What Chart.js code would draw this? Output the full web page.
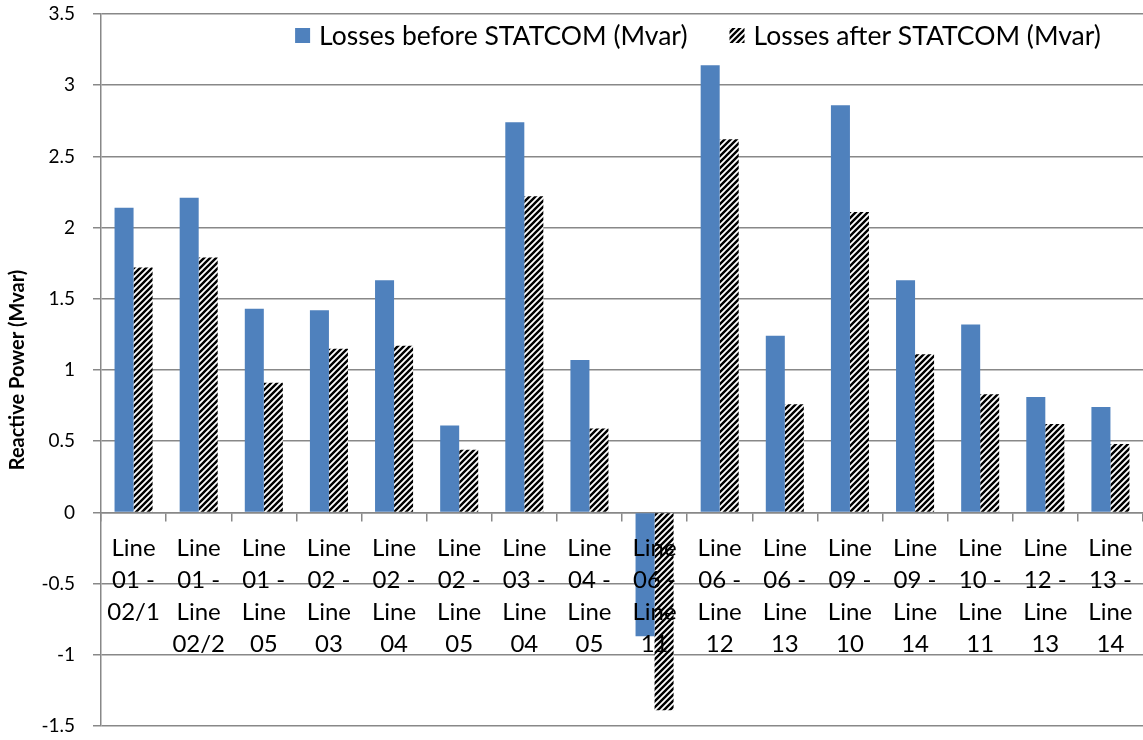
<!DOCTYPE html>
<html lang="en">
<head>
<meta charset="UTF-8">
<title>Reactive power losses</title>
<script src="https://cdn.jsdelivr.net/npm/chart.js"></script>
<style>
  html, body { margin: 0; padding: 0; background: #fff; }
  #wrap { width: 1143px; height: 740px; }
</style>
</head>
<body>
<div id="wrap"><canvas id="lossChart" width="1143" height="740"></canvas></div>
<script>
// Lines of the network, each label already split the way it wraps
const lineLabels = [
    ['Line', '01 -', '02/1'],
    ['Line', '01 -', 'Line', '02/2'],
    ['Line', '01 -', 'Line', '05'],
    ['Line', '02 -', 'Line', '03'],
    ['Line', '02 -', 'Line', '04'],
    ['Line', '02 -', 'Line', '05'],
    ['Line', '03 -', 'Line', '04'],
    ['Line', '04 -', 'Line', '05'],
    ['Line', '06 -', 'Line', '11'],
    ['Line', '06 -', 'Line', '12'],
    ['Line', '06 -', 'Line', '13'],
    ['Line', '09 -', 'Line', '10'],
    ['Line', '09 -', 'Line', '14'],
    ['Line', '10 -', 'Line', '11'],
    ['Line', '12 -', 'Line', '13'],
    ['Line', '13 -', 'Line', '14']
];

// Reactive power losses (Mvar)
const lossesBefore = [2.14, 2.21, 1.43, 1.42, 1.63, 0.61, 2.74, 1.07, -0.87, 3.14, 1.24, 2.86, 1.63, 1.32, 0.81, 0.74];
const lossesAfter  = [1.72, 1.79, 0.91, 1.15, 1.17, 0.44, 2.22, 0.59, -1.39, 2.62, 0.76, 2.11, 1.11, 0.83, 0.62, 0.48];

// Y axis range
const yMin = -1.5;
const yMax = 3.5;
const yStep = 0.5;

Chart.defaults.font.family = 'Lato';

// black / white diagonal stripes for the "after" series
const makeStripes = () => {
    const size = 6;
    const c = document.createElement('canvas');
    c.width = size;
    c.height = size;
    const g = c.getContext('2d');
    g.fillStyle = '#fff';
    g.fillRect(0, 0, size, size);
    g.strokeStyle = '#000';
    g.lineWidth = 2.4;
    g.beginPath();
    g.moveTo(-1, size + 1); g.lineTo(size + 1, -1);
    g.moveTo(-1, 1); g.lineTo(1, -1);
    g.moveTo(size - 1, size + 1); g.lineTo(size + 1, size - 1);
    g.stroke();
    return g.createPattern(c, 'repeat');
};

// legend drawn in one row inside the plot, right of centre near the top
const insideLegend = {
    id: 'insideLegend',
    afterDraw(chart) {
        const { ctx, chartArea } = chart;
        const box = 15, gap = 9, spacing = 42;
        ctx.save();
        ctx.font = '26.5px Lato';
        const items = chart.data.datasets.map(ds => ({
            text: ds.label,
            fill: ds.backgroundColor,
            w: ctx.measureText(ds.label).width
        }));
        const total = items.reduce((s, it) => s + box + gap + it.w, 0) + spacing * (items.length - 1);
        let x = (chartArea.left + chartArea.right) / 2 + 76 - total / 2;
        const y = chartArea.top + 22;
        ctx.textBaseline = 'middle';
        ctx.textAlign = 'left';
        items.forEach(it => {
            ctx.fillStyle = it.fill;
            ctx.fillRect(x, y - 8, box, box);
            ctx.fillStyle = '#000';
            ctx.fillText(it.text, x + box + gap, y);
            x += box + gap + it.w + spacing;
        });
        ctx.restore();
    }
};

const gridGray = '#888888';
const ctx = document.getElementById('lossChart').getContext('2d');

new Chart(ctx, {
    type: 'bar',
    data: {
        labels: lineLabels,
        datasets: [{
            label: 'Losses before STATCOM (Mvar)',
            data: lossesBefore,
            backgroundColor: '#4F81BD',
            borderWidth: 0,
            categoryPercentage: 0.584,
            barPercentage: 1.0
        }, {
            label: 'Losses after STATCOM (Mvar)',
            data: lossesAfter,
            backgroundColor: makeStripes(),
            borderWidth: 0,
            categoryPercentage: 0.584,
            barPercentage: 1.0
        }]
    },
    plugins: [insideLegend],
    options: {
        responsive: false,
        animation: false,
        devicePixelRatio: 1,
        layout: { padding: { top: 14, bottom: 14, left: 0, right: 0 } },
        plugins: {
            legend: { display: false },
            tooltip: { enabled: false }
        },
        scales: {
            x: {
                position: { y: 0 },
                grid: {
                    drawOnChartArea: false,
                    offset: true,
                    tickLength: 8,
                    color: gridGray,
                    lineWidth: 1.5
                },
                border: { color: gridGray, width: 1.5 },
                ticks: {
                    z: 1,   // category names sit on top of the bars
                    autoSkip: false,
                    maxRotation: 0,
                    minRotation: 0,
                    padding: 12,
                    color: '#000',
                    font: { size: 24, lineHeight: '32px' }
                },
                // labels hang off the zero line, so the axis takes no room at the bottom
                afterFit: (scale) => {
                    scale.height = 0;
                    scale.paddingLeft = 0;
                    scale.paddingRight = 0;
                }
            },
            y: {
                min: yMin,
                max: yMax,
                ticks: {
                    stepSize: yStep,
                    padding: 18,
                    color: '#000',
                    font: { size: 19 },
                    callback: (v) => String(v)
                },
                grid: {
                    tickLength: 8,
                    color: gridGray,
                    lineWidth: 1.5
                },
                border: { color: gridGray, width: 1.5 },
                title: {
                    display: true,
                    text: 'Reactive Power (Mvar)',
                    color: '#000',
                    font: { size: 20, weight: 'bold' },
                    padding: { top: 6, bottom: 0 }
                },
                afterFit: (scale) => {
                    scale.width = 101;
                    scale.paddingTop = 0;
                    scale.paddingBottom = 0;
                }
            }
        }
    }
});
</script>
</body>
</html>
